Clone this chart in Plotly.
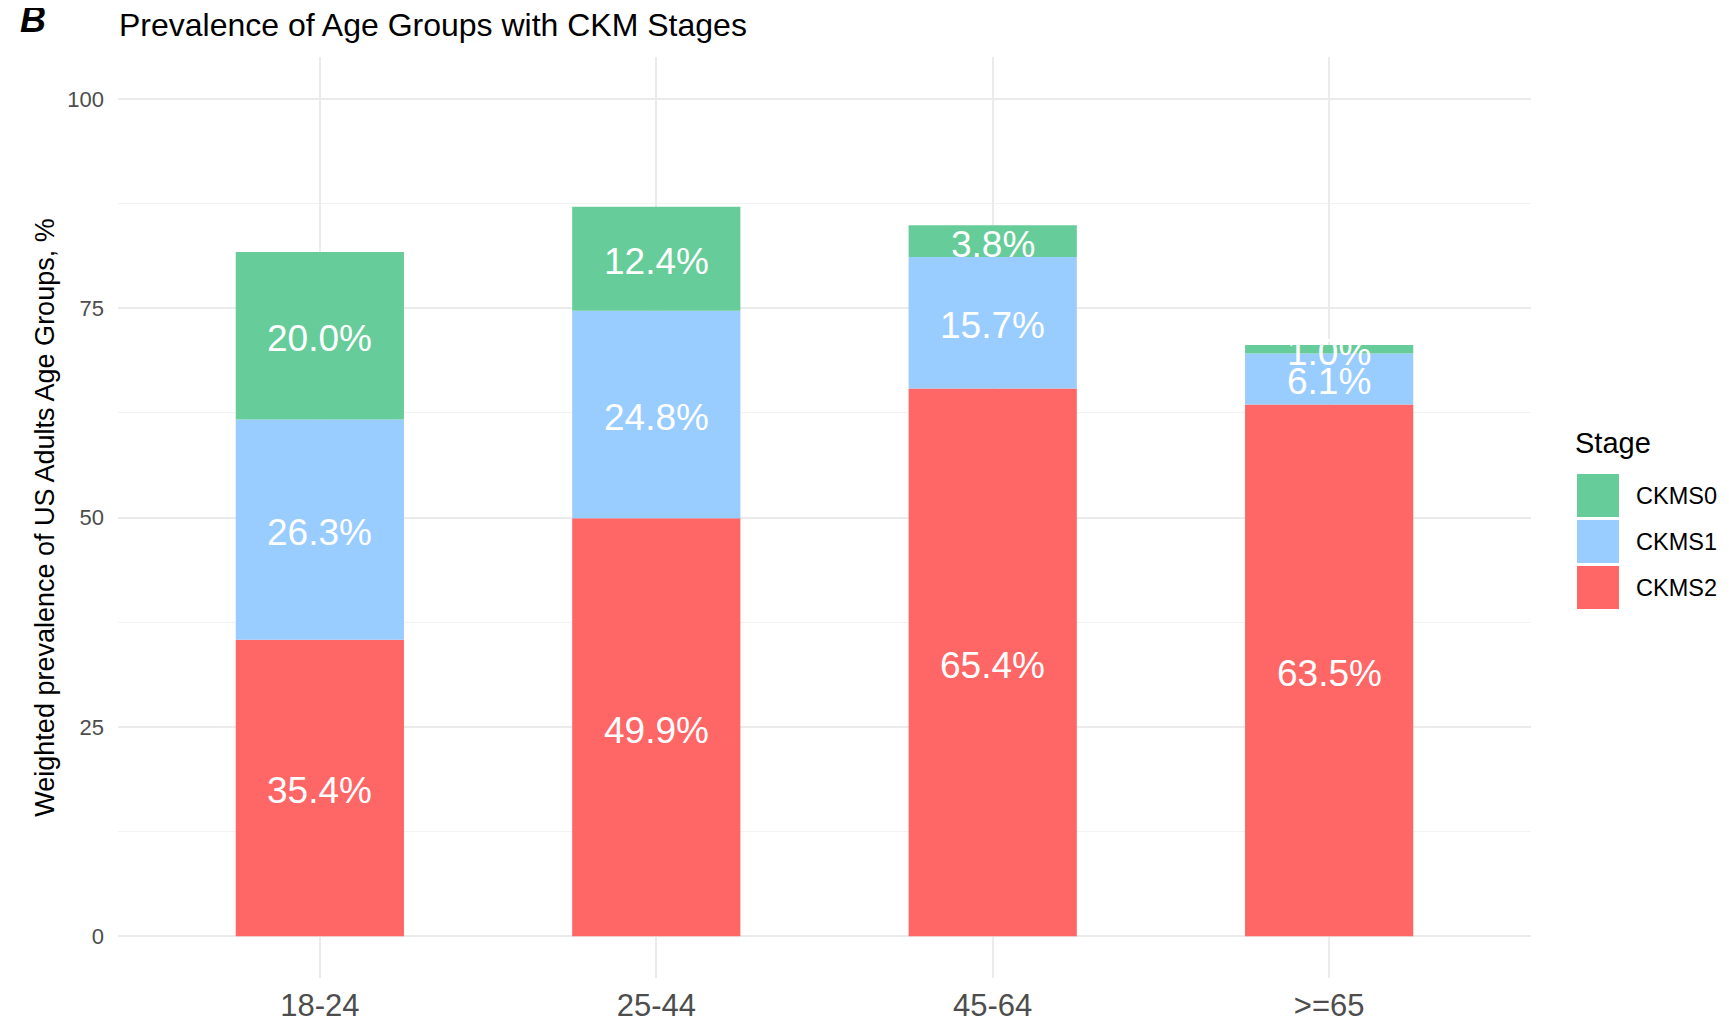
import plotly.graph_objects as go

age_groups = ["18-24", "25-44", "45-64", ">=65"]
stages = ["CKMS2", "CKMS1", "CKMS0"]  # bottom to top
ckms2 = [35.4, 49.9, 65.4, 63.5]
ckms1 = [26.3, 24.8, 15.7, 6.1]
ckms0 = [20.0, 12.4, 3.8, 1.0]
stage_values = {"CKMS2": ckms2, "CKMS1": ckms1, "CKMS0": ckms0}
stage_colors = {"CKMS0": "#66CC99", "CKMS1": "#99CCFF", "CKMS2": "#FF6666"}
y_ticks = [0, 25, 50, 75, 100]

FONT = "Liberation Sans, Arial, sans-serif"
W, H = 1729, 1025
OFF = 8  # page body margin offset
L, R, T, B = 118 - OFF, 198 + OFF, 57 - OFF, 47 + OFF

fig = go.Figure()
base = [0.0] * len(age_groups)
for st in stages:
    vals = stage_values[st]
    fig.add_trace(go.Bar(
        x=age_groups, y=vals, base=base, name=st,
        marker=dict(color=stage_colors[st], line=dict(width=0)),
        width=0.5, showlegend=False, hoverinfo="skip",
    ))
    for xc, b, v in zip(age_groups, base, vals):
        fig.add_annotation(x=xc, y=b + v / 2, xref="x", yref="y",
                           text=f"{v:.1f}%", showarrow=False, yshift=-3,
                           font=dict(family=FONT, size=37, color="white"))
    base = [b + v for b, v in zip(base, vals)]

fig.update_layout(
    width=W, height=H,
    margin=dict(l=L, r=R, t=T, b=B),
    barmode="overlay",
    plot_bgcolor="white", paper_bgcolor="white",
    font=dict(family=FONT, color="black"),
    title=dict(text="Prevalence of Age Groups with CKM Stages",
               x=(119 - OFF) / W, xanchor="left", xref="container",
               y=1 - (25 - OFF) / H, yanchor="middle", yref="container",
               font=dict(size=32, color="black", family=FONT)),
    xaxis=dict(
        type="category", range=[-0.6, 3.6], automargin=False,
        showgrid=True, gridcolor="#EBEBEB", gridwidth=1.5,
        zeroline=False, showline=False, ticks="",
        tickfont=dict(size=31, color="#4D4D4D", family=FONT),
        ticklabelstandoff=6,
    ),
    yaxis=dict(
        range=[-5, 105], tickvals=y_ticks, automargin=False,
        showgrid=True, gridcolor="#EBEBEB", gridwidth=1.5,
        minor=dict(tickvals=[12.5, 37.5, 62.5, 87.5], showgrid=True,
                   gridcolor="#F3F3F3", gridwidth=1),
        zeroline=False, showline=False, ticks="",
        tickfont=dict(size=22, color="#4D4D4D", family=FONT),
        ticklabelstandoff=13,
        title=dict(text="Weighted prevalence of US Adults Age Groups, %",
                   font=dict(size=27, color="black", family=FONT), standoff=4),
    ),
)

pw, ph = W - L - R, H - T - B
def px_x(x):
    return (x - OFF - L) / pw
def px_y(y):
    return 1 - (y - OFF - T) / ph

# panel tag
fig.add_annotation(text="<b><i>B</i></b>", xref="paper", yref="paper",
                   x=px_x(18), y=px_y(20),
                   xanchor="left", yanchor="middle", showarrow=False,
                   font=dict(size=36, color="black", family=FONT))

# legend (manual, ggplot style)
fig.add_annotation(text="Stage", xref="paper", yref="paper",
                   x=px_x(1573), y=px_y(443), xanchor="left", yanchor="middle",
                   showarrow=False, font=dict(size=29, color="black", family=FONT))
legend_order = ["CKMS0", "CKMS1", "CKMS2"]
for i, st in enumerate(legend_order):
    y0 = 474 + i * 46
    fig.add_shape(type="rect", xref="paper", yref="paper",
                  x0=px_x(1577), x1=px_x(1619), y0=px_y(y0), y1=px_y(y0 + 43),
                  fillcolor=stage_colors[st], line=dict(width=0))
    fig.add_annotation(text=st, xref="paper", yref="paper",
                       x=px_x(1634), y=px_y(y0 + 21.5), xanchor="left", yanchor="middle",
                       showarrow=False, font=dict(size=23.5, color="black", family=FONT))

fig.write_html("out.html")
